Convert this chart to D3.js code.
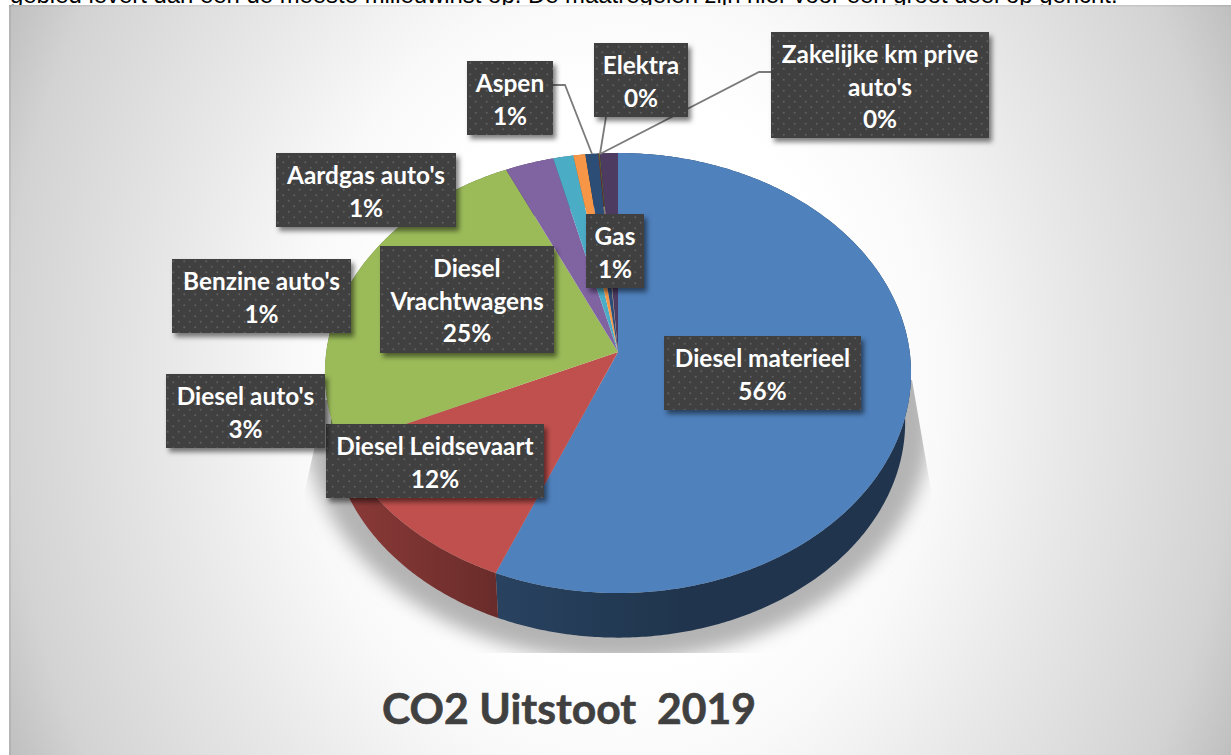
<!DOCTYPE html>
<html><head><meta charset="utf-8">
<script src="https://cdn.jsdelivr.net/npm/d3@7/dist/d3.min.js"></script>
<style>html,body{margin:0;padding:0;background:#fff;overflow:hidden}svg{display:block}text{white-space:pre}</style>
</head><body><svg id="c" width="1231" height="755"></svg>
<script>
const categories=["Diesel materieel","Diesel Leidsevaart","Diesel Vrachtwagens","Diesel auto's","Benzine auto's","Aardgas auto's","Aspen","Elektra","Zakelijke km prive auto's","Gas"];
const values=[56.3,12.0,24.95,2.95,1.22,0.72,0.78,0.05,0.05,1.08];
const percentLabels=["56%","12%","25%","3%","1%","1%","1%","0%","0%","1%"];
const labelLines=[["Diesel materieel"],["Diesel Leidsevaart"],["Diesel","Vrachtwagens"],["Diesel auto's"],["Benzine auto's"],["Aardgas auto's"],["Aspen"],["Elektra"],["Zakelijke km prive","auto's"],["Gas"]];
const colors=["#4f81bd","#c0504d","#9bbb59","#8064a2","#4bacc6","#f79646","#2c4d75","#772c2a","#5f7530","#4d3b62"];
const titleText="CO2 Uitstoot  2019";
const topText="gebied levert dan een de meeste milieuwinst op. De maatregelen zijn hier voor een groot deel op gericht.";
// label boxes [x0,y0,x1,y1]
const boxes=[[664,336,861,410],[326,424,544,498],[380,246,554,353],[166,374,325,448],[172,259,351,333],[276,153,456,227],[467,61,553,135],[594,43,688,117],[771,32,989,138],[586,214,644,288]];
const leaders=[null,null,null,null,null,null,[[553,85],[565,85],[592,154]],[[606,117],[600,154]],[[771,72],[759,72],[600,154]],null];

const svg=d3.select("#c");
const W=1231,H=755;
const defs=svg.append("defs");

const bg=defs.append("radialGradient").attr("id","bg").attr("gradientUnits","userSpaceOnUse")
 .attr("cx",0).attr("cy",0).attr("r",1.13).attr("gradientTransform","translate(620,380) scale(611,750)");
[[0,"#ffffff"],[0.34,"#ffffff"],[0.47,"#f9f9f9"],[0.64,"#e9e9e9"],[0.89,"#d3d3d3"],[1,"#bdbdbd"]].forEach(s=>bg.append("stop").attr("offset",s[0]).attr("stop-color",s[1]));

const blur=defs.append("filter").attr("id","blur").attr("x","-20%").attr("y","-20%").attr("width","140%").attr("height","140%");
blur.append("feGaussianBlur").attr("stdDeviation",9);
const ds=defs.append("filter").attr("id","ds").attr("x","-15%").attr("y","-15%").attr("width","135%").attr("height","140%");
ds.append("feDropShadow").attr("dx",3).attr("dy",4).attr("stdDeviation",2.5).attr("flood-color","#000").attr("flood-opacity",0.5);

const pat=defs.append("pattern").attr("id","dots").attr("patternUnits","userSpaceOnUse").attr("width",11).attr("height",11);
pat.append("rect").attr("width",11).attr("height",11).attr("fill","#3f3f3f");
[[2.75,2.75],[8.25,8.25]].forEach(p=>pat.append("circle").attr("cx",p[0]).attr("cy",p[1]).attr("r",1).attr("fill","#606060"));

defs.append("clipPath").attr("id","sc").append("path").attr("d","M912,380L931,490L931,653L305,653L305,490L325,400Z");

// projection of the tilted disc
const cx=618,apexY=352,k=-0.0955,A=184.4,X=291.7;
const proj=(u,v)=>[cx+X*u/(1+k*v),(A*v+apexY)/(1+k*v)];
const ellipseCY=373,shrink=0.98,drop=49;
const lower=p=>[cx+(p[0]-cx)*shrink,ellipseCY+drop+(p[1]-ellipseCY)*shrink];
const onRim=a=>proj(Math.sin(a),-Math.cos(a));
const arcs=d3.pie().sort(null).value(d=>d)(values);
const rimPts=(a0,a1)=>{const n=Math.max(2,Math.ceil((a1-a0)/0.01));return d3.range(n+1).map(i=>onRim(a0+(a1-a0)*i/n));};
const lineGen=d3.line();

svg.append("text").attr("x",10).attr("y",3).attr("font-family","Liberation Sans").attr("font-size",23.9).attr("fill","#000").text(topText);
svg.append("rect").attr("x",9).attr("y",5).attr("width",W-9).attr("height",H-5).attr("fill","url(#bg)");
svg.append("rect").attr("x",9).attr("y",5).attr("width",2).attr("height",H-5).attr("fill","#000").attr("opacity",0.07);
svg.append("rect").attr("x",9).attr("y",5).attr("width",W-9).attr("height",1.5).attr("fill","#000").attr("opacity",0.07);

// soft shadow
svg.append("g").attr("clip-path","url(#sc)").append("ellipse").attr("cx",cx).attr("cy",420).attr("rx",313).attr("ry",241)
 .attr("fill","#b4b4b4").attr("filter","url(#blur)");

// side walls
const sideStops=[[1.9,2.5],[0.9,1.7],[1.2,1.8],[1.5,1.5],[1.5,1.5],[1.5,1.5],[1.5,1.5],[1.5,1.5],[1.5,1.5],[1.5,1.5]];
arcs.forEach((d,i)=>{
  const g=defs.append("linearGradient").attr("id","side"+i);
  g.append("stop").attr("offset",0).attr("stop-color",d3.rgb(colors[i]).darker(sideStops[i][0]));
  g.append("stop").attr("offset",i==0?0.45:1).attr("stop-color",d3.rgb(colors[i]).darker(sideStops[i][1]));
});
svg.append("g").selectAll("path").data(arcs).join("path")
 .attr("fill",(d,i)=>`url(#side${i})`)
 .attr("d",d=>{const t=rimPts(d.startAngle,d.endAngle);return lineGen(t.concat(t.map(lower).reverse()))+"Z";});

// top faces
svg.append("g").selectAll("path").data(arcs).join("path")
 .attr("fill",(d,i)=>colors[i])
 .attr("d",d=>lineGen([proj(0,0)].concat(rimPts(d.startAngle,d.endAngle)))+"Z");

// leaders
svg.append("g").selectAll("path").data(leaders.filter(Boolean)).join("path")
 .attr("d",d=>lineGen(d)).attr("fill","none").attr("stroke","#7a7a7a").attr("stroke-width",1.8);

// labels
const lg=svg.append("g").selectAll("g").data(categories).join("g");
lg.append("rect").attr("x",(d,i)=>boxes[i][0]).attr("y",(d,i)=>boxes[i][1])
 .attr("width",(d,i)=>boxes[i][2]-boxes[i][0]).attr("height",(d,i)=>boxes[i][3]-boxes[i][1])
 .attr("fill","url(#dots)").attr("filter","url(#ds)");
lg.each(function(d,i){
  const b=boxes[i],lines=labelLines[i].concat(percentLabels[i]);
  d3.select(this).selectAll("text").data(lines).join("text")
   .attr("x",(b[0]+b[2])/2).attr("y",(t,j)=>b[1]+31+j*32.5)
   .attr("text-anchor","middle").attr("font-family","Lato").attr("font-weight",700)
   .attr("font-size",24.4).attr("fill","#fff").text(t=>t);
});

svg.append("text").attr("x",569).attr("y",724).attr("text-anchor","middle")
 .attr("font-family","Lato").attr("font-weight",700).attr("font-size",42.7).attr("fill","#404040")
 .attr("stroke","#404040").attr("stroke-width",0.6).text(titleText);
</script></body></html>
